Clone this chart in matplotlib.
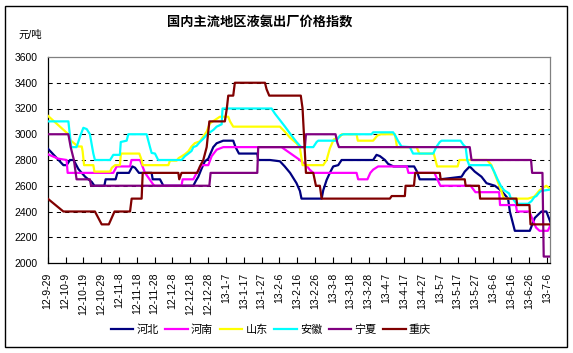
import matplotlib
matplotlib.use('Agg')
import matplotlib.pyplot as plt
from matplotlib.patches import Rectangle

plt.rcParams['font.family'] = ['Liberation Sans', 'Noto Sans CJK SC']

# ---------------- data (x = days since 2012-09-29) ----------------
title = '国内主流地区液氨出厂价格指数'
unit_label = '元/吨'
series_names = ['河北', '河南', '山东', '安徽', '宁夏', '重庆']
series_colors = ['#000080', '#FF00FF', '#FFFF00', '#00FFFF', '#800080', '#800000']

tick_labels = ['12-9-29', '12-10-9', '12-10-19', '12-10-29', '12-11-8', '12-11-18',
               '12-11-28', '12-12-8', '12-12-18', '12-12-28', '13-1-7', '13-1-17',
               '13-1-27', '13-2-6', '13-2-16', '13-2-26', '13-3-8', '13-3-18',
               '13-3-28', '13-4-7', '13-4-17', '13-4-27', '13-5-7', '13-5-17',
               '13-5-27', '13-6-6', '13-6-16', '13-6-26', '13-7-6']
tick_days = [0, 10, 20, 30, 40, 50, 60, 70, 80, 90, 100, 110, 120, 130, 140,
             150, 160, 170, 180, 190, 200, 210, 220, 230, 240, 250, 260, 270, 280]
y_ticks = [2000, 2200, 2400, 2600, 2800, 3000, 3200, 3400, 3600]
grid_levels = [2200, 2400, 2600, 2800, 3000, 3200, 3400]

hebei = [(0, 2890), (8.8, 2760), (10.6, 2760), (12.5, 2800), (14.4, 2800), (15.3, 2780),
         (17.2, 2730), (19.1, 2700), (21, 2670), (22.8, 2650), (24.7, 2630), (26.2, 2600),
         (31.8, 2600), (32.5, 2650), (38.1, 2650), (39.1, 2700), (45.6, 2700), (47.5, 2750),
         (49, 2740), (51.2, 2700), (58.3, 2700), (58.9, 2650), (63, 2650), (64.9, 2600),
         (81.7, 2600), (83.2, 2640), (84.5, 2670), (86.4, 2735), (88.2, 2790), (90.1, 2810),
         (92.9, 2900), (94.8, 2930), (98.5, 2950), (104.1, 2950), (105.4, 2900), (107.3, 2850),
         (117.6, 2850), (118.1, 2800), (124.7, 2800), (130.3, 2790), (133, 2750), (136, 2700),
         (139.6, 2620), (141.5, 2560), (142.4, 2500), (153.7, 2500), (154.6, 2565),
         (156.5, 2645), (158.3, 2700), (160.2, 2750), (163, 2760), (164.9, 2800),
         (182.6, 2800), (184.5, 2840), (186.4, 2830), (189.2, 2800), (191, 2770), (194, 2750),
         (205.6, 2750), (207.2, 2710), (208.7, 2650), (220.3, 2650), (232.2, 2670),
         (234, 2710), (236.8, 2750), (239.6, 2710), (243.4, 2670), (246.2, 2620),
         (250.9, 2600), (254.6, 2560), (258.3, 2500), (259.3, 2400), (262.1, 2250),
         (270.5, 2250), (273.3, 2350), (277, 2400), (279.8, 2400), (282, 2320)]

henan = [(0, 2845), (6, 2810), (10.6, 2800), (11.2, 2700), (36.8, 2700), (38.7, 2750),
         (46.2, 2750), (47, 2800), (51.8, 2800), (54.6, 2700), (59.2, 2610), (60, 2600),
         (75.1, 2600), (75.7, 2650), (81.7, 2650), (83.6, 2700), (86.4, 2760), (90.1, 2760),
         (92, 2830), (94.8, 2880), (98.5, 2900), (131.2, 2900), (141.5, 2800), (145, 2760),
         (147, 2725), (149, 2700), (173.3, 2700), (174.2, 2650), (179.4, 2650), (181, 2700),
         (182.6, 2725), (185.4, 2750), (201.5, 2750), (202.4, 2700), (217, 2700),
         (220.3, 2600), (237.3, 2600), (240, 2550), (253.3, 2550), (253.8, 2450),
         (262.7, 2450), (263.3, 2400), (270.2, 2400), (274, 2275), (276, 2250),
         (280.6, 2250), (282, 2290)]

shandong = [(0, 3145), (11.6, 3000), (12.5, 2956), (16.3, 2913), (17.2, 2905), (19.1, 2905),
            (19.6, 2867), (20.4, 2760), (25.6, 2760), (26.2, 2710), (35, 2710), (36, 2740),
            (37.8, 2760), (40.5, 2760), (41.1, 2850), (51.4, 2850), (52.7, 2800), (53.3, 2760),
            (67.7, 2760), (68.6, 2795), (72.3, 2795), (73.5, 2815), (75.1, 2828), (77, 2845),
            (78.9, 2867), (80.7, 2905), (82.6, 2931), (85.4, 2945), (87.3, 2982), (89.2, 3020),
            (91, 3085), (93.8, 3110), (96.6, 3136), (101.3, 3136), (102.3, 3100), (104.1, 3059),
            (130.3, 3059), (133, 3021), (135.9, 2975), (139.6, 2930), (141.5, 2895),
            (143, 2760), (154.6, 2760), (156.5, 2800), (158.3, 2890), (160.5, 2960),
            (164, 2980), (165, 3000), (173.3, 3000), (174, 2950), (182.6, 2950), (185, 2990),
            (187, 3000), (194.8, 3000), (196, 2900), (207, 2900), (208.5, 2850), (216.6, 2850),
            (218.5, 2750), (230, 2750), (231, 2800), (246.5, 2800), (249, 2760), (252, 2650),
            (254.5, 2560), (256, 2500), (269.5, 2500), (273, 2515), (276, 2565),
            (279.7, 2600), (282, 2575)]

anhui = [(0, 3100), (11.6, 3100), (13.2, 2900), (16.2, 2900), (18.1, 2980), (20, 3050),
         (21.9, 3040), (23.7, 3000), (24.7, 2920), (25.6, 2850), (26.5, 2800), (35, 2800),
         (36.8, 2840), (40.5, 2840), (41, 2940), (44.3, 2950), (45.2, 3000), (55.5, 3000),
         (57.4, 2900), (58.3, 2855), (60.2, 2850), (62, 2800), (75.1, 2800), (77, 2830),
         (78.9, 2850), (80.7, 2870), (81.7, 2900), (83.5, 2910), (85.4, 2940), (87.3, 2965),
         (89.2, 2995), (91, 3015), (92.9, 3033), (94.8, 3059), (97.6, 3077), (98.1, 3200),
         (125.6, 3200), (127.5, 3160), (130.3, 3110), (133.1, 3060), (136.8, 2990),
         (139.6, 2940), (141.5, 2910), (142.4, 2900), (149, 2900), (150.9, 2940),
         (151.8, 2950), (162, 2950), (164, 2990), (165.8, 3000), (181.7, 3000),
         (182.6, 3015), (193.8, 3015), (195, 2990), (196.5, 2950), (198.5, 2905),
         (203.2, 2900), (205, 2850), (216.3, 2850), (218, 2900), (220, 2940), (221, 2950),
         (231.6, 2950), (233.1, 2920), (234.5, 2900), (235.4, 2800), (236.5, 2760),
         (248.6, 2760), (250.5, 2710), (252.4, 2650), (254.2, 2600), (256.1, 2565),
         (258.9, 2540), (259.9, 2500), (261, 2500), (263, 2460), (269.5, 2460),
         (271.4, 2480), (273.1, 2513), (274.2, 2520), (275.9, 2550), (277, 2560), (282, 2570)]

ningxia = [(0, 3000), (11.6, 3000), (12.9, 2900), (14.7, 2800), (16.2, 2650), (23.7, 2650),
           (24.3, 2600), (90.7, 2600), (91.4, 2700), (117.6, 2700), (118.1, 2900),
           (144.3, 2900), (144.9, 3000), (161.5, 3000), (162.5, 2935), (163.4, 2900),
           (236.8, 2900), (237.8, 2800), (271.2, 2800), (271.8, 2700), (277.6, 2700),
           (278.3, 2050), (282, 2050)]

chongqing = [(0, 2500), (8.8, 2400), (26.5, 2400), (30.3, 2300), (34.3, 2300), (37.5, 2400),
             (46.2, 2400), (47.1, 2500), (52.7, 2500), (53.3, 2700), (73.3, 2700),
             (73.8, 2650), (75.1, 2700), (83.9, 2700), (85.4, 2750), (87.3, 2800),
             (89.2, 2900), (90.7, 3100), (99.4, 3100), (100.5, 3200), (101.3, 3300),
             (104.1, 3300), (105, 3400), (121.9, 3400), (122.8, 3350), (124.3, 3300),
             (142, 3300), (143, 3200), (144.9, 2700), (149, 2700), (150.5, 2600),
             (152.7, 2600), (153.7, 2500), (192, 2500), (193, 2520), (200.4, 2520),
             (200.8, 2600), (205.5, 2600), (206.2, 2700), (220, 2700), (220.5, 2650),
             (234, 2650), (234.5, 2600), (242, 2600), (242.6, 2500), (263, 2500),
             (263.4, 2450), (270.3, 2450), (270.9, 2300), (282, 2300)]

all_series = [hebei, henan, shandong, anhui, ningxia, chongqing]

# ---------------- figure ----------------
W, H = 573, 353
fig = plt.figure(figsize=(W / 100, H / 100), dpi=100)
fig.patch.set_facecolor('white')

ax = fig.add_axes([47.7 / W, 1 - 263 / H, (550.3 - 47.7) / W, (263 - 57) / H])

for lvl in grid_levels:
    ax.axhline(lvl, color='black', lw=0.75, ls=(0, (4, 4)), zorder=1)

for name, pts, col in zip(series_names, all_series, series_colors):
    xs = [p[0] for p in pts]
    ys = [p[1] for p in pts]
    ax.plot(xs, ys, color=col, lw=1.6, label=name, zorder=3)

ax.set_xlim(0, 282)
ax.set_ylim(2000, 3600)
ax.set_yticks(y_ticks)
ax.set_yticklabels([str(v) for v in y_ticks])
ax.set_xticks(tick_days)
ax.set_xticklabels(tick_labels, rotation=90)
ax.tick_params(axis='y', length=0, pad=7, labelsize=7.5)
ax.tick_params(axis='x', direction='in', length=4, width=0.8, pad=7, labelsize=7.5)

for s in ['left', 'bottom']:
    ax.spines[s].set_color('black')
    ax.spines[s].set_linewidth(0.9)
for s in ['top', 'right']:
    ax.spines[s].set_color('#808080')
    ax.spines[s].set_linewidth(0.9)

# outer border
fig.add_artist(Rectangle((5 / W, 6 / H), 562 / W, 341 / H, transform=fig.transFigure,
                         fill=False, ec='black', lw=1.0))

fig.text(259.5 / W, 1 - 21.7 / H, title, ha='center', va='center',
         fontsize=9.5, fontweight='bold')
fig.text(30 / W, 1 - 35 / H, unit_label, ha='center', va='center', fontsize=7.5)

handles, labels = ax.get_legend_handles_labels()
fig.legend(handles, labels, loc='center', bbox_to_anchor=(271 / W, 1 - 330 / H),
           ncol=6, frameon=False, fontsize=8, handlelength=2.0, handletextpad=0.3,
           columnspacing=0.6)

fig.savefig('out.png', dpi=100)
